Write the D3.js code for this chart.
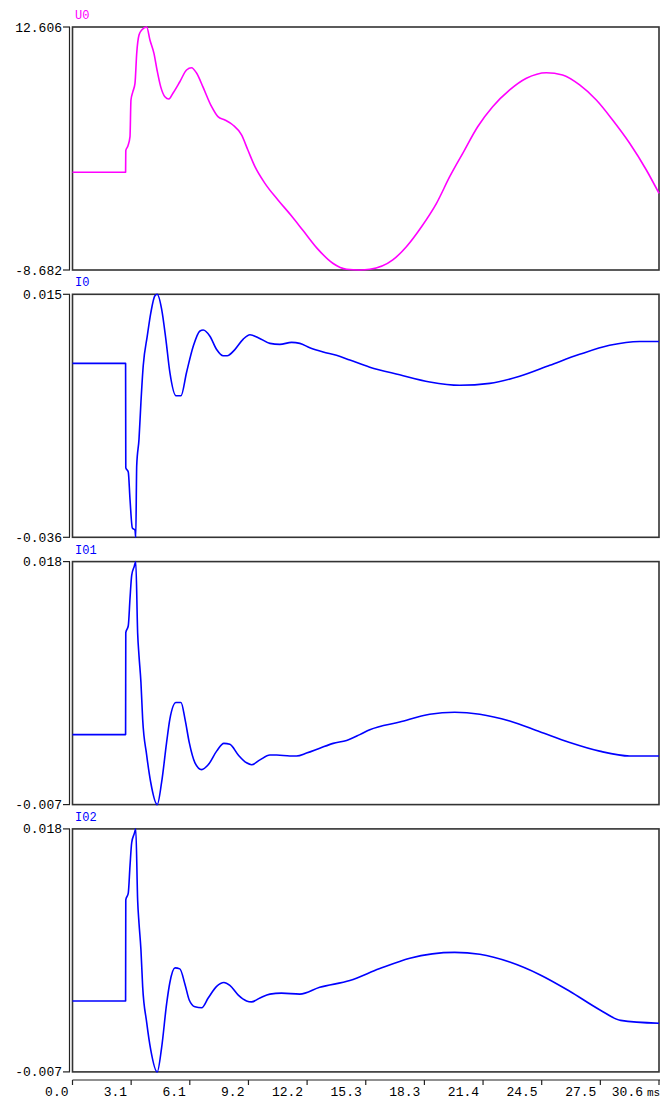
<!DOCTYPE html>
<html>
<head>
<meta charset="utf-8">
<script src="https://cdn.jsdelivr.net/npm/d3@7"></script>
<style>
  body { margin: 0; background: #fff; }
  svg { display: block; }
  text { font-family: "Liberation Mono", "DejaVu Sans Mono", monospace; }
</style>
</head>
<body>
<div id="chart"></div>
<script>
// time axis (ms)
var timeTicks = [0, 3.06, 6.12, 9.18, 12.24, 15.3, 18.36, 21.42, 24.48, 27.54, 30.6];
var tickLabels = ["0.0", "3.1", "6.1", "9.2", "12.2", "15.3", "18.3", "21.4", "24.5", "27.5", "30.6"];

var seriesNames = ["U0", "I0", "I01", "I02"];
var seriesColors = ["#ff00ff", "#0000ff", "#0000ff", "#0000ff"];
var yMin = [-8.682, -0.036, -0.007, -0.007];
var yMax = [12.606, 0.015, 0.018, 0.018];

// [t(ms), value]
var u0 = [[0,-0.12],[2.77,-0.12],[2.78,1.77],[2.89,2.18],[3.0,3.0],[3.05,6.21],[3.15,6.94],[3.26,7.67],
  [3.35,10.3],[3.47,11.9],[3.61,12.34],[3.87,12.6],[4.04,11.47],[4.25,10.3],[4.41,8.84],[4.6,7.38],
  [4.82,6.5],[5.03,6.3],[5.24,6.8],[5.6,7.81],[5.95,8.84],[6.21,9.04],[6.48,8.55],[6.8,7.38],
  [7.26,5.62],[7.59,4.75],[7.95,4.46],[8.37,4.02],[8.82,3.15],[9.15,1.83],[9.52,0.37],[10.04,-1.09],
  [10.72,-2.55],[11.43,-3.95],[12.02,-5.2],[12.8,-6.85],[13.58,-8.09],[14.3,-8.62],[14.99,-8.68],
  [15.51,-8.62],[16.71,-7.8],[17.42,-6.64],[18.21,-4.89],[18.99,-2.84],[19.68,-0.51],[20.36,1.54],
  [21.14,3.87],[21.92,5.62],[22.81,7.09],[23.68,8.11],[24.72,8.6],[25.57,8.4],[26.46,7.53],
  [27.33,6.21],[28.18,4.46],[29.07,2.42],[29.94,0.08],[30.6,-1.96]];

var i0 = [[0,0.0005],[2.77,0.0005],[2.78,-0.0214],[2.91,-0.0223],[3.0,-0.028],[3.12,-0.034],[3.26,-0.0345],
  [3.3,-0.036],[3.35,-0.021],[3.47,-0.0154],[3.57,-0.0077],[3.69,0.0],[3.9,0.0062],[4.09,0.0112],
  [4.3,0.0147],[4.42,0.015],[4.65,0.0119],[4.87,0.0056],[5.08,-0.0014],[5.4,-0.0063],[5.66,-0.0063],
  [5.95,-0.0014],[6.3,0.0041],[6.65,0.0073],[6.82,0.0075],[7.17,0.0062],[7.52,0.0034],[7.86,0.0021],
  [8.07,0.0021],[8.47,0.0034],[8.91,0.0056],[9.26,0.0065],[9.69,0.0059],[10.3,0.0047],[10.82,0.0045],
  [11.43,0.0049],[11.86,0.0047],[12.38,0.0038],[13.08,0.0029],[13.77,0.0022],[14.47,0.0012],
  [15.51,-0.0003],[17.07,-0.0019],[18.64,-0.0034],[20.2,-0.0041],[21.77,-0.0037],[23.33,-0.0022],
  [24.9,0.0001],[26.46,0.0024],[28.02,0.0043],[29.59,0.0051],[30.6,0.0051]];

var i01 = [[0,0.0002],[2.77,0.0002],[2.78,0.0107],[2.91,0.0114],[3.0,0.0142],[3.09,0.0166],[3.22,0.0175],
  [3.3,0.018],[3.4,0.0106],[3.47,0.0083],[3.57,0.0056],[3.66,0.0018],[3.87,-0.0019],[4.08,-0.0047],
  [4.42,-0.007],[4.65,-0.0047],[4.91,-0.0006],[5.08,0.0018],[5.4,0.0035],[5.66,0.0035],[5.87,0.0018],
  [6.09,-0.0006],[6.39,-0.0027],[6.74,-0.0034],[7.08,-0.0029],[7.52,-0.0015],[7.9,-0.0007],
  [8.21,-0.0008],[8.65,-0.0019],[9.08,-0.0027],[9.34,-0.0029],[9.78,-0.0024],[10.3,-0.0019],
  [10.65,-0.0019],[11.34,-0.002],[11.69,-0.002],[12.21,-0.0017],[12.9,-0.0012],[13.6,-0.0007],
  [14.3,-0.0004],[14.99,0.0002],[15.51,0.0007],[17.07,0.0015],[18.64,0.0023],[19.94,0.0025],
  [21.25,0.0023],[22.81,0.0016],[24.38,0.0005],[25.94,-0.0006],[27.5,-0.0015],[29.07,-0.002],
  [30.6,-0.002]];

var i02 = [[0,0.0003],[2.77,0.0003],[2.78,0.0107],[2.91,0.0114],[3.0,0.0142],[3.09,0.0166],[3.22,0.0175],
  [3.3,0.018],[3.4,0.0106],[3.47,0.0083],[3.57,0.0056],[3.66,0.0018],[3.87,-0.0019],[4.08,-0.0047],
  [4.42,-0.007],[4.65,-0.0045],[4.91,0.0],[5.08,0.0022],[5.35,0.0037],[5.6,0.0036],[5.87,0.002],
  [6.09,0.0004],[6.39,-0.0003],[6.74,-0.0004],[7.08,0.0006],[7.52,0.0018],[7.9,0.0022],
  [8.21,0.0019],[8.65,0.0009],[9.08,0.0003],[9.34,0.0002],[9.78,0.0006],[10.3,0.001],
  [10.9,0.0011],[11.86,0.001],[12.9,0.0017],[14.47,0.0024],[16.0,0.0036],[17.6,0.0047],
  [19.94,0.0053],[21.25,0.0051],[22.81,0.0043],[24.38,0.0030],[25.94,0.0013],[27.5,-0.0006],
  [28.6,-0.0017],[30.6,-0.002]];

var seriesData = [u0, i0, i01, i02];

var width = 670, height = 1099;
var left = 72.5, right = 659;
var panelTop = 27, panelStep = 267.3, panelH = 243;

var svg = d3.select("#chart")
    .append("svg")
    .attr("width", width)
    .attr("height", height);

var x = d3.scaleLinear().domain([0, 30.6]).range([left, right]);

function drawPanel(i)
{
    var py = panelTop + i * panelStep;
    var y = d3.scaleLinear().domain([yMin[i], yMax[i]]).range([py + panelH, py]);
    var g = svg.append("g");

    // y axis line with end ticks (double left edge)
    g.append("line")
        .attr("x1", 69.5).attr("x2", 69.5)
        .attr("y1", y(yMax[i])).attr("y2", y(yMin[i]))
        .attr("stroke", "#222").attr("stroke-width", 1.2);

    [yMax[i], yMin[i]].forEach(function(v) {
        g.append("line")
            .attr("x1", 63).attr("x2", 70)
            .attr("y1", y(v)).attr("y2", y(v))
            .attr("stroke", "#222").attr("stroke-width", 1.2);
        g.append("text")
            .attr("x", 62).attr("y", y(v) + 4.5)
            .attr("text-anchor", "end")
            .attr("font-size", 13)
            .attr("fill", "#000")
            .text(v.toFixed(3));
    });

    // plot box
    g.append("rect")
        .attr("x", left).attr("y", py)
        .attr("width", right - left).attr("height", panelH)
        .attr("fill", "#fff")
        .attr("stroke", "#333").attr("stroke-width", 1.6);

    var line = d3.line()
        .x(function(d){return x(d[0]);})
        .y(function(d){return y(d[1]);})
        .curve(d3.curveMonotoneX);

    g.append("path")
        .datum(seriesData[i])
        .attr("d", line)
        .attr("fill", "none")
        .attr("stroke", seriesColors[i])
        .attr("stroke-width", 1.6)
        .attr("stroke-linejoin", "round");

    g.append("text")
        .attr("x", 75).attr("y", py - 8)
        .attr("font-size", 12)
        .attr("fill", seriesColors[i])
        .text(seriesNames[i]);
}

for (var i = 0; i < seriesData.length; i++)
{
    drawPanel(i);
}

// bottom time axis
var axisY = 1080;
svg.append("line")
    .attr("x1", left).attr("x2", right + 1)
    .attr("y1", axisY).attr("y2", axisY)
    .attr("stroke", "#222").attr("stroke-width", 1.2);

svg.selectAll(".xtick")
    .data(timeTicks)
    .enter()
        .append("line")
        .attr("class", "xtick")
        .attr("x1", function(d){return x(d);})
        .attr("x2", function(d){return x(d);})
        .attr("y1", axisY).attr("y2", axisY + 5)
        .attr("stroke", "#222").attr("stroke-width", 1.2);

svg.selectAll(".xlabel")
    .data(timeTicks)
    .enter()
        .append("text")
        .attr("class", "xlabel")
        .attr("x", function(d, i){return i == timeTicks.length - 1 ? x(d) - 16 : x(d) - 4;})
        .attr("y", 1096)
        .attr("text-anchor", "end")
        .attr("font-size", 13)
        .attr("fill", "#000")
        .text(function(d, i){return tickLabels[i];});

svg.append("text")
    .attr("x", 647).attr("y", 1096)
    .attr("font-size", 11)
    .attr("fill", "#000")
    .text("ms");
</script>
</body>
</html>
